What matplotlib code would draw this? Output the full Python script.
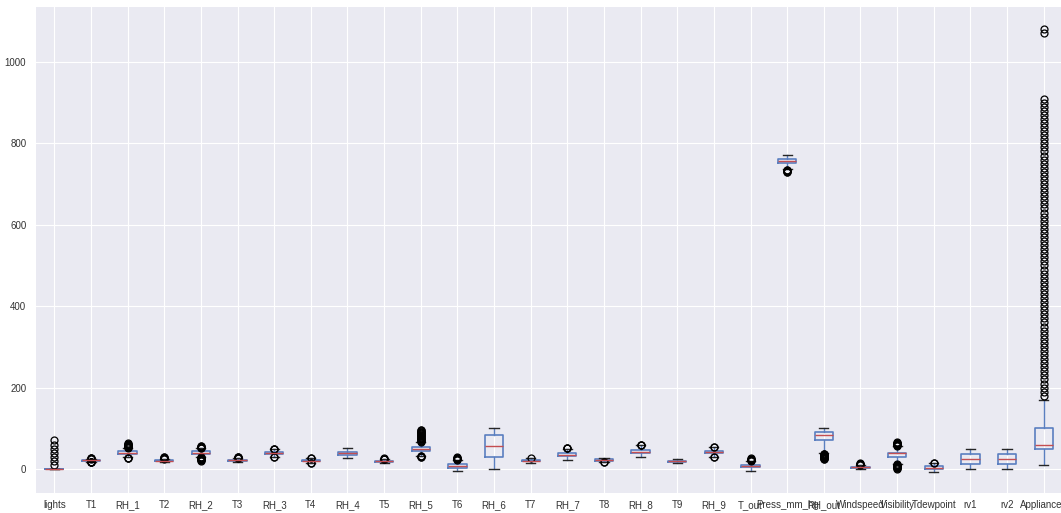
import matplotlib
matplotlib.use("Agg")
import matplotlib.pyplot as plt
from matplotlib import font_manager

# Column names of the energy dataset
columns = ["lights", "T1", "RH_1", "T2", "RH_2", "T3", "RH_3", "T4", "RH_4",
           "T5", "RH_5", "T6", "RH_6", "T7", "RH_7", "T8", "RH_8", "T9", "RH_9",
           "T_out", "Press_mm_hg", "RH_out", "Windspeed", "Visibility",
           "Tdewpoint", "rv1", "rv2", "Appliances"]

# Box statistics per column
q1 = [0, 20.76, 37.33, 18.79, 37.90, 20.79, 36.90, 19.53, 35.53,
      18.28, 45.40, 3.63, 30.02, 18.70, 31.50, 20.79, 39.07, 18.00, 38.50,
      3.67, 750.93, 70.33, 2.00, 29.00, 0.90, 12.50, 12.50, 50]
median = [0, 21.60, 39.66, 20.00, 40.50, 22.10, 38.53, 20.67, 38.40,
          19.39, 49.09, 7.30, 55.29, 20.03, 34.86, 22.10, 42.38, 19.39, 40.90,
          6.92, 756.10, 83.67, 3.67, 40.00, 3.43, 24.90, 24.90, 60]
q3 = [0, 22.60, 43.07, 21.50, 43.26, 23.29, 41.76, 22.10, 42.16,
      20.62, 53.66, 11.26, 83.23, 21.60, 39.00, 23.39, 46.54, 20.60, 44.34,
      10.41, 760.93, 91.67, 5.50, 40.00, 6.57, 37.58, 37.58, 100]
whisker_low = [0, 18.00, 28.80, 16.10, 29.90, 17.20, 29.65, 15.70, 27.66,
               15.33, 33.10, -6.07, 1.00, 15.39, 23.20, 16.90, 29.60, 14.89, 29.80,
               -5.00, 736.00, 38.40, 0.00, 13.00, -6.60, 0.01, 0.01, 10]
whisker_high = [0, 25.30, 51.60, 25.50, 51.20, 27.00, 49.00, 25.90, 51.09,
                24.10, 66.00, 22.70, 99.90, 25.90, 50.20, 27.23, 57.70, 24.50, 53.05,
                20.50, 772.30, 100.00, 10.70, 56.00, 15.00, 49.99, 49.99, 170]

# Outliers per column
fliers = [
    [10, 20, 30, 40, 50, 60, 70],
    [16.79, 17.0, 17.3, 17.6, 17.9, 25.5, 25.8, 26.0, 26.26],
    [27.02, 27.6, 28.2, 52, 53, 54, 55, 56, 57, 58, 59, 60, 61, 62, 63.36],
    [25.7, 26.5, 27.3, 28.1, 29.0, 29.86],
    [20.46, 21.5, 22.5, 23.5, 24.5, 25.5, 26.5, 27.5, 28.5, 29.5,
     51.5, 52.5, 53.5, 54.5, 55.3, 56.03],
    [27.2, 27.8, 28.4, 29.0, 29.24],
    [28.77, 29.2, 49.2, 49.7, 50.16],
    [15.1, 15.4, 26.0, 26.2],
    [],
    [24.2, 24.8, 25.3, 25.8],
    [29.82, 30.5, 31.3, 32.2, 66.5, 68.0, 69.5, 71.0, 72.5, 74.0, 75.5,
     77.0, 78.5, 80.0, 81.5, 83.0, 84.5, 86.0, 87.5, 89.0, 90.5, 92.0,
     93.5, 95.0, 96.32],
    [22.8, 23.8, 24.8, 25.8, 26.8, 27.5, 28.29],
    [],
    [26.0],
    [50.4, 50.9, 51.4],
    [16.31, 16.6],
    [57.9, 58.4, 58.78],
    [],
    [29.17, 29.5, 53.2, 53.33],
    [20.6, 21.5, 22.4, 23.3, 24.2, 25.1, 26.1],
    [729.3, 730.5, 731.7, 732.9, 734.1, 735.3],
    [24, 25, 26, 27, 28, 29, 30, 31, 32, 33, 34, 35, 36, 37, 38],
    [11.0, 11.5, 12.0, 12.5, 13.0, 14.0],
    [1, 2, 3, 4, 5, 6, 7, 8, 9, 10, 11, 12,
     57, 58, 59, 60, 61, 62, 63, 64, 65, 66],
    [15.2, 15.5],
    [],
    [],
    [180, 190, 200, 210, 220, 230, 240, 250, 260, 270, 280, 290, 300,
     310, 320, 330, 340, 350, 360, 370, 380, 390, 400, 410, 420, 430,
     440, 450, 460, 470, 480, 490, 500, 510, 520, 530, 540, 550, 560,
     570, 580, 590, 600, 610, 620, 630, 640, 650, 660, 670, 680, 690,
     700, 710, 720, 730, 740, 750, 760, 770, 780, 790, 800, 810, 820,
     830, 840, 850, 860, 870, 880, 890, 900, 910, 1070, 1080],
]

y_ticks = [0, 200, 400, 600, 800, 1000]

# Pick a condensed sans font when available
available = {f.name for f in font_manager.fontManager.ttflist}
family = "Liberation Sans Narrow" if "Liberation Sans Narrow" in available else "Liberation Sans"
plt.rcParams["font.family"] = [family, "DejaVu Sans"]

fig = plt.figure(figsize=(10.61, 5.13), dpi=100)
ax = fig.add_axes([36 / 1061, 20 / 513, 1026 / 1061, 486 / 513])
ax.set_facecolor("#EAEAF2")

stats = []
for name, a, m, b, lo, hi, fl in zip(columns, q1, median, q3,
                                     whisker_low, whisker_high, fliers):
    stats.append({"label": name, "q1": a, "med": m, "q3": b,
                  "whislo": lo, "whishi": hi, "fliers": fl})

box_color = "#5A7FC0"
ax.bxp(stats, positions=range(1, len(columns) + 1), widths=0.5,
       boxprops=dict(color=box_color, linewidth=1.2),
       whiskerprops=dict(color=box_color, linewidth=1.0),
       capprops=dict(color="#262626", linewidth=1.0),
       medianprops=dict(color="#C44E52", linewidth=1.0),
       flierprops=dict(marker="o", markerfacecolor="none",
                       markeredgecolor="black", markersize=5,
                       markeredgewidth=0.9))

ax.set_xlim(0.5, len(columns) + 0.5)
ax.set_ylim(-59, 1135)
ax.set_yticks(y_ticks)
ax.set_yticklabels([str(v) for v in y_ticks])
ax.grid(True, color="white", linewidth=0.8)
ax.set_axisbelow(True)
for s in ax.spines.values():
    s.set_visible(False)
ax.tick_params(axis="both", length=0, labelsize=7, colors="#333333")
ax.tick_params(axis="x", pad=5)
ax.tick_params(axis="y", pad=7)

fig.savefig("out.png", dpi=100)
